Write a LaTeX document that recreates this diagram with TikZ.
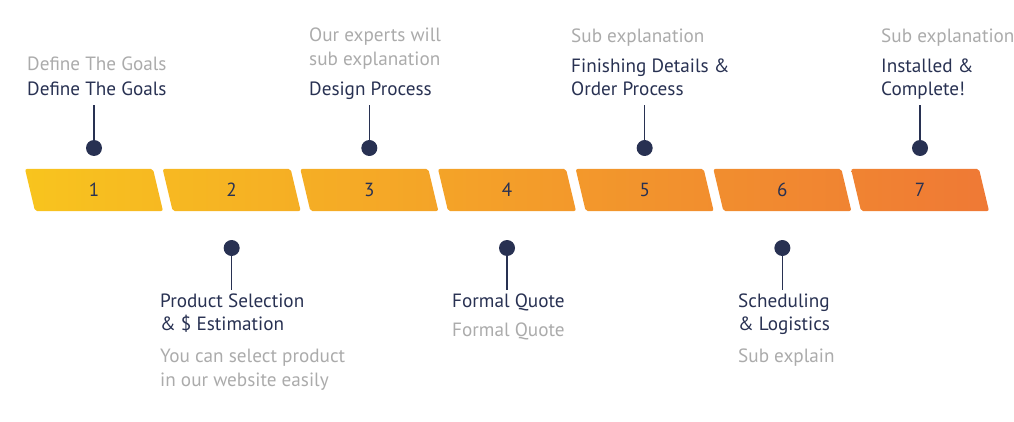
\documentclass[tikz,border=0pt]{standalone}
\usepackage{fontspec}
\setmainfont{PT Sans}
\usetikzlibrary{positioning}
\definecolor{tlyellow}{HTML}{F8C41E}
\definecolor{tlorange}{HTML}{EF7935}
\definecolor{tlnavy}{HTML}{283152}
\definecolor{tlgray}{HTML}{ABABAB}

\begin{document}
\begin{tikzpicture}[x=1pt,y=-1pt,
    title/.style={font=\fontsize{19.2}{23}\selectfont,text=tlnavy,align=left,inner sep=0pt,text depth=0pt},
    subtext/.style={font=\fontsize{19.2}{24}\selectfont,text=tlgray,align=left,inner sep=0pt,text depth=0pt},
    dot/.style={circle,fill=tlnavy,minimum size=16pt,inner sep=0pt},
    stem/.style={draw=tlnavy,line width=1.4pt}]
\useasboundingbox (0,0) rectangle (1014,422);

\foreach \i [count=\n from 0] in {1,...,7}{
    \pgfmathsetmacro\xa{25+\n*137.67}
    \pgfmathtruncatemacro\pl{100-\n*100/7}
    \pgfmathtruncatemacro\pr{100-(\n+1)*100/7}
    \path[rounded corners=2pt,left color=tlyellow!\pl!tlorange,right color=tlyellow!\pr!tlorange]
        (\xa,169) -- ++(128,0) -- ++(10,42) -- ++(-128,0) -- cycle;
    \node[font=\fontsize{19}{19}\selectfont,text=tlnavy] (N\i) at (\xa+69,190) {\i};
}

\foreach \i in {1,3,5,7}
    \node[dot] (D\i) at ([yshift=42pt]N\i.center) {};
\foreach \i in {2,4,6}
    \node[dot] (D\i) at ([yshift=-58pt]N\i.center) {};

\node[title,anchor=south west] (T1) at (27,96) {Define The Goals};
\node[title,anchor=south west] (T3) at (309,96) {Design Process};
\node[title,anchor=south west] (T5) at (571,96) {Finishing Details \&\\Order Process};
\node[title,anchor=south west] (T7) at (881,96) {Installed \&\\Complete!};
\node[title,anchor=north west] (T2) at (160,294) {Product Selection\\\& \$ Estimation};
\node[title,anchor=north west] (T4) at (452,294) {Formal Quote};
\node[title,anchor=north west] (T6) at (738,294) {Scheduling\\\& Logistics};

\node[subtext,above=11pt of T1.north west,anchor=south west] (S1) {Define The Goals};
\node[subtext,above=16pt of T3.north west,anchor=south west] (S3) {Our experts will\\sub explanation};
\node[subtext,above=16pt of T5.north west,anchor=south west] (S5) {Sub explanation};
\node[subtext,above=16pt of T7.north west,anchor=south west] (S7) {Sub explanation};
\node[subtext,below=18pt of T2.south west,anchor=north west] (S2) {You can select product\\in our website easily};
\node[subtext,below=15pt of T4.south west,anchor=north west] (S4) {Formal Quote};
\node[subtext,below=18pt of T6.south west,anchor=north west] (S6) {Sub explain};

\foreach \i in {1,3,5,7}
    \draw[stem,shorten >=9pt] (D\i) -- (D\i |- T\i.south);
\foreach \i in {2,4,6}
    \draw[stem,shorten >=4pt] (D\i) -- (D\i |- T\i.north);
\end{tikzpicture}
\end{document}
